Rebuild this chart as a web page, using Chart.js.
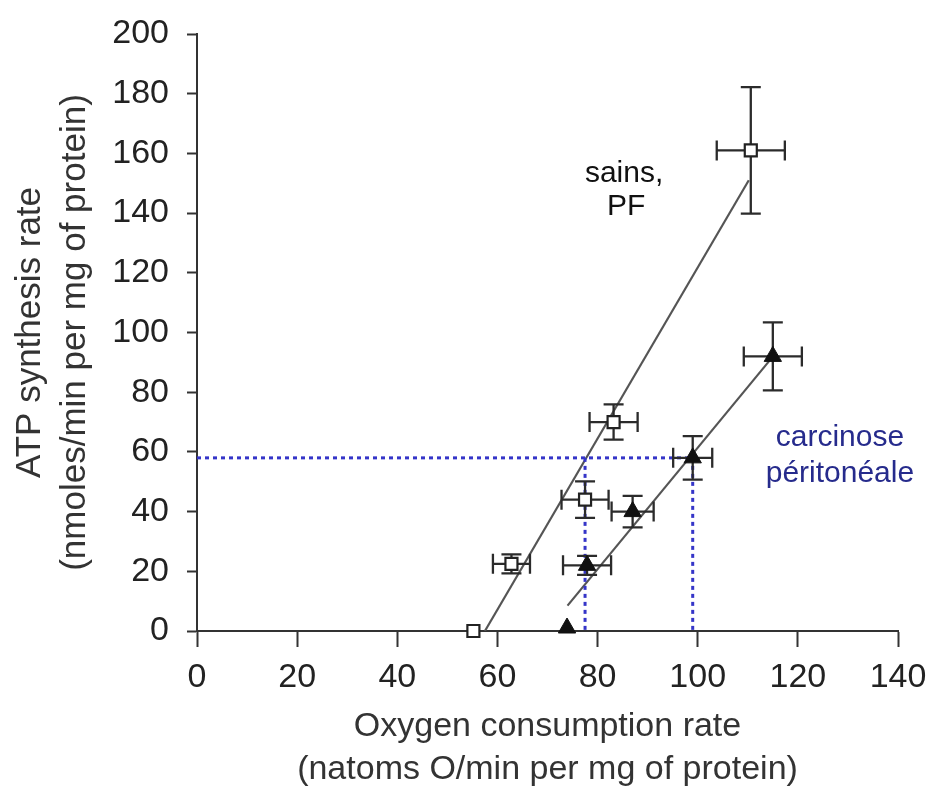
<!DOCTYPE html>
<html>
<head>
<meta charset="utf-8">
<script src="https://cdn.jsdelivr.net/npm/chart.js@4.4.0/dist/chart.umd.min.js"></script>
<style>
  html, body { margin: 0; padding: 0; background: #fff; }
  canvas { display: block; }
</style>
</head>
<body>
<canvas id="chart" width="929" height="794"></canvas>
<script>
// healthy peritoneum (open squares)
var healthyX = [55.2, 62.8, 77.5, 83.2, 110.6]
var healthyY = [0, 22.5, 44, 70, 161]
var healthyXErr = [0, 3.7, 4.7, 4.8, 6.8]
var healthyYErr = [0, 3.2, 6.1, 5.9, 21.2]

// peritoneal carcinomatosis (filled triangles)
var cancerX = [73.9, 77.9, 87.0, 99.0, 115.0]
var cancerY = [1, 22, 40, 58, 92]
var cancerXErr = [0, 4.8, 4.2, 3.9, 5.8]
var cancerYErr = [0, 3.2, 5.3, 7.3, 11.4]

// regression lines (end points)
var healthyFitX = [57.5, 110.2]
var healthyFitY = [0, 151]
var cancerFitX = [74, 114.3]
var cancerFitY = [8.5, 90.5]

// dotted reading guides
var guideLevel = 58
var guideX = [77.5, 99]

var xTicks = [0, 20, 40, 60, 80, 100, 120, 140]
var yTicks = [0, 20, 40, 60, 80, 100, 120, 140, 160, 180, 200]

var FONT = '"Liberation Sans", Arial, Helvetica, sans-serif'

function toPoints(xs, ys) {
	return xs.map(function (v, i) { return { x: v, y: ys[i] } })
}

// error bars drawn just before each point dataset
var errorBars = {
	id: 'errorBars',
	beforeDatasetDraw: function (chart, args) {
		var ds = chart.data.datasets[args.index]
		if (!ds.errX) return
		var ctx = chart.ctx, xs = chart.scales.x, ys = chart.scales.y
		var cap = 10
		ctx.save()
		ctx.strokeStyle = '#2b2b2b'
		ctx.lineWidth = 2.3
		ds.data.forEach(function (p, i) {
			var px = xs.getPixelForValue(p.x), py = ys.getPixelForValue(p.y)
			var ex = ds.errX[i], ey = ds.errY[i]
			ctx.beginPath()
			if (ex) {
				var l = xs.getPixelForValue(p.x - ex), r = xs.getPixelForValue(p.x + ex)
				ctx.moveTo(l, py); ctx.lineTo(r, py)
				ctx.moveTo(l, py - cap); ctx.lineTo(l, py + cap)
				ctx.moveTo(r, py - cap); ctx.lineTo(r, py + cap)
			}
			if (ey) {
				var t = ys.getPixelForValue(p.y + ey), b = ys.getPixelForValue(p.y - ey)
				ctx.moveTo(px, t); ctx.lineTo(px, b)
				ctx.moveTo(px - cap, t); ctx.lineTo(px + cap, t)
				ctx.moveTo(px - cap, b); ctx.lineTo(px + cap, b)
			}
			ctx.stroke()
		})
		ctx.restore()
	}
}

// text labels next to the two series
var notes = [
	{ text: 'sains,', x: 85.3, y: 150.4, color: '#111' },
	{ text: 'PF', x: 85.7, y: 139.4, color: '#111' },
	{ text: 'carcinose', x: 128.4, y: 62.0, color: '#262b8c' },
	{ text: 'péritonéale', x: 128.4, y: 49.9, color: '#262b8c' },
]

var notesPlugin = {
	id: 'notes',
	afterDatasetsDraw: function (chart) {
		var ctx = chart.ctx, xs = chart.scales.x, ys = chart.scales.y
		ctx.save()
		ctx.font = '30px ' + FONT
		ctx.textAlign = 'center'
		ctx.textBaseline = 'alphabetic'
		notes.forEach(function (n) {
			ctx.fillStyle = n.color
			ctx.fillText(n.text, xs.getPixelForValue(n.x), ys.getPixelForValue(n.y))
		})
		ctx.restore()
	}
}

var blue = '#3535c8'
var guideStyle = {
	showLine: true, borderColor: blue, borderWidth: 3, borderDash: [4, 4],
	pointRadius: 0, fill: false, clip: false,
}

var datasets = [
	{
		label: 'sains, PF',
		data: toPoints(healthyX, healthyY),
		errX: healthyXErr, errY: healthyYErr,
		pointStyle: 'rect', pointRadius: 8.5,
		backgroundColor: '#fff', borderColor: '#222', borderWidth: 2.2,
		clip: false,
	},
	{
		label: 'carcinose péritonéale',
		data: toPoints(cancerX, cancerY),
		errX: cancerXErr, errY: cancerYErr,
		pointStyle: 'triangle', pointRadius: 10,
		backgroundColor: '#111', borderColor: '#111', borderWidth: 1,
		clip: false,
	},
	Object.assign({ data: [{ x: 0, y: guideLevel }, { x: guideX[1], y: guideLevel }] }, guideStyle),
	Object.assign({ data: [{ x: guideX[0], y: guideLevel }, { x: guideX[0], y: 0 }] }, guideStyle),
	Object.assign({ data: [{ x: guideX[1], y: guideLevel }, { x: guideX[1], y: 0 }] }, guideStyle),
	{
		data: toPoints(healthyFitX, healthyFitY),
		showLine: true, borderColor: '#555', borderWidth: 2.2, pointRadius: 0,
	},
	{
		data: toPoints(cancerFitX, cancerFitY),
		showLine: true, borderColor: '#555', borderWidth: 2.2, pointRadius: 0,
	},
]

var axisColor = '#333'

new Chart(document.getElementById('chart').getContext('2d'), {
	type: 'scatter',
	data: { datasets: datasets },
	plugins: [errorBars, notesPlugin],
	options: {
		responsive: false,
		animation: false,
		devicePixelRatio: 1,
		layout: { padding: { left: 0, top: 34, right: 31, bottom: 0 } },
		plugins: { legend: { display: false }, tooltip: { enabled: false } },
		scales: {
			x: {
				type: 'linear', min: 0, max: 140,
				afterFit: function (s) {
					s.height = 163
					s.paddingLeft = 0
					s.paddingRight = 0
				},
				afterBuildTicks: function (s) { s.ticks = xTicks.map(function (v) { return { value: v } }) },
				ticks: { font: { family: FONT, size: 34 }, color: '#222', padding: 10, maxRotation: 0 },
				grid: { drawOnChartArea: false, tickLength: 16, tickWidth: 2, tickColor: axisColor },
				border: { color: axisColor, width: 2 },
				title: {
					display: true,
					text: ['Oxygen consumption rate', '(natoms O/min per mg of protein)'],
					font: { family: FONT, size: 34, lineHeight: '43px' },
					color: '#333',
					padding: { top: 0, bottom: 2.5 },
				},
			},
			y: {
				type: 'linear', min: 0, max: 200,
				afterFit: function (s) {
					s.width = 197
					s.paddingTop = 0
					s.paddingBottom = 0
				},
				afterBuildTicks: function (s) { s.ticks = yTicks.map(function (v) { return { value: v } }) },
				ticks: { font: { family: FONT, size: 34 }, color: '#222', padding: 18 },
				grid: { drawOnChartArea: false, tickLength: 10, tickWidth: 2, tickColor: axisColor },
				border: { color: axisColor, width: 2 },
				title: {
					display: true,
					text: ['ATP synthesis rate', '(nmoles/min per mg of protein)'],
					font: { family: FONT, size: 35, lineHeight: '45px' },
					color: '#333',
					padding: { top: 7.5, bottom: 0 },
				},
			},
		},
	},
})
</script>
</body>
</html>
